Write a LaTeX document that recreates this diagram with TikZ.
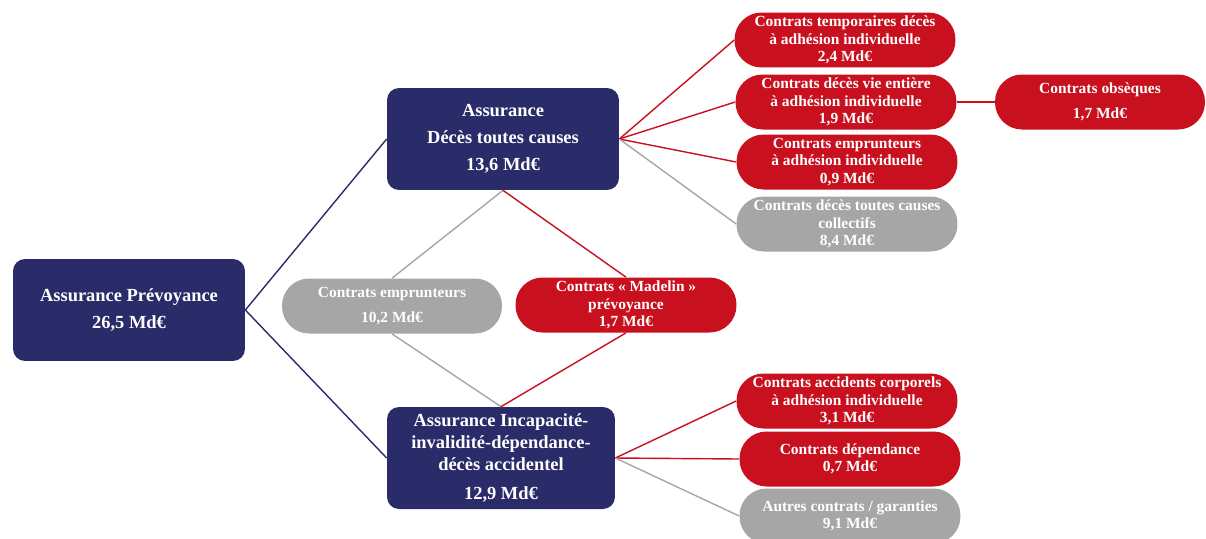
\documentclass[tikz,border=0pt]{standalone}
\usepackage{fontspec}
\setmainfont{Liberation Serif}
\usetikzlibrary{positioning}
\definecolor{marine}{HTML}{2A2C6A}
\definecolor{rouge}{HTML}{C8101E}
\definecolor{gris}{HTML}{A6A6A6}

\begin{document}
\begin{tikzpicture}[x=0.02cm,y=-0.02cm]
\tikzstyle{bloc}=[rectangle,rounded corners=0.24cm,fill=marine,text=white,
align=center,minimum width=4.64cm,minimum height=2.04cm,inner sep=0pt,
font=\bfseries\fontsize{10.5}{15.5}\selectfont]
\tikzstyle{feuille}=[rectangle,rounded corners=0.54cm,text=white,
align=center,minimum width=4.42cm,minimum height=1.1cm,inner sep=0pt,
font=\bfseries\fontsize{8.8}{9.9}\selectfont]
\tikzstyle{rougebox}=[feuille,fill=rouge]
\tikzstyle{grisbox}=[feuille,fill=gris]
\tikzstyle{lienbleu}=[draw=marine,line width=0.8pt]
\tikzstyle{lienrouge}=[draw=rouge,line width=0.8pt]
\tikzstyle{liengris}=[draw=gris,line width=0.8pt]
\useasboundingbox (0,0) rectangle (1206,538);

\node[bloc] at (129,310) (prev) {Assurance Prévoyance\\26,5 Md€};
\node[bloc] at (503,139) (deces) {Assurance\\Décès toutes causes\\13,6 Md€};
\node[bloc,minimum width=4.56cm,font=\bfseries\fontsize{10.5}{12.5}\selectfont]
  at (501,458) (incap) {Assurance Incapacité-\\invalidité-dépendance-\\décès accidentel\\[4pt]12,9 Md€};

\node[grisbox,minimum width=4.4cm] at (392,306) (empr) {Contrats emprunteurs\\[4pt]10,2 Md€};
\node[rougebox] at (626,305) (madelin) {Contrats «~Madelin~»\\prévoyance\\1,7 Md€};

\node[rougebox] at (845,40) (tempo) {Contrats temporaires décès\\à adhésion individuelle\\2,4 Md€};
\node[rougebox] at (846,102) (vie) {Contrats décès vie entière\\à adhésion individuelle\\1,9 Md€};
\node[rougebox] at (847,162) (emprind) {Contrats emprunteurs\\à adhésion individuelle\\0,9 Md€};
\node[grisbox] at (847,224) (coll) {Contrats décès toutes causes\\collectifs\\8,4 Md€};
\node[rougebox,minimum width=4.2cm] at (1100,102) (obs) {Contrats obsèques\\[4pt]1,7 Md€};

\node[rougebox] at (847,401) (acc) {Contrats accidents corporels\\à adhésion individuelle\\3,1 Md€};
\node[rougebox] at (850,459) (dep) {Contrats dépendance\\0,7 Md€};
\node[grisbox] at (850,516) (autres) {Autres contrats / garanties\\9,1 Md€};

% liens
\path[lienbleu] (prev.east) -- (deces.west);
\path[lienbleu] (prev.east) -- (incap.west);
\path[lienrouge] (deces.east) -- (tempo.west);
\path[lienrouge] (deces.east) -- (vie.west);
\path[lienrouge] (deces.east) -- (emprind.west);
\path[liengris] (deces.east) -- (coll.west);
\path[lienrouge] (vie.east) -- (obs.west);
\path[liengris] (deces.south) -- (empr.north);
\path[lienrouge] (deces.south) -- (madelin.north);
\path[liengris] (empr.south) -- (incap.north);
\path[lienrouge] (madelin.south) -- (incap.north);
\path[lienrouge] (incap.east) -- (acc.west);
\path[lienrouge] (incap.east) -- (dep.west);
\path[liengris] (incap.east) -- (autres.west);

\end{tikzpicture}
\end{document}
